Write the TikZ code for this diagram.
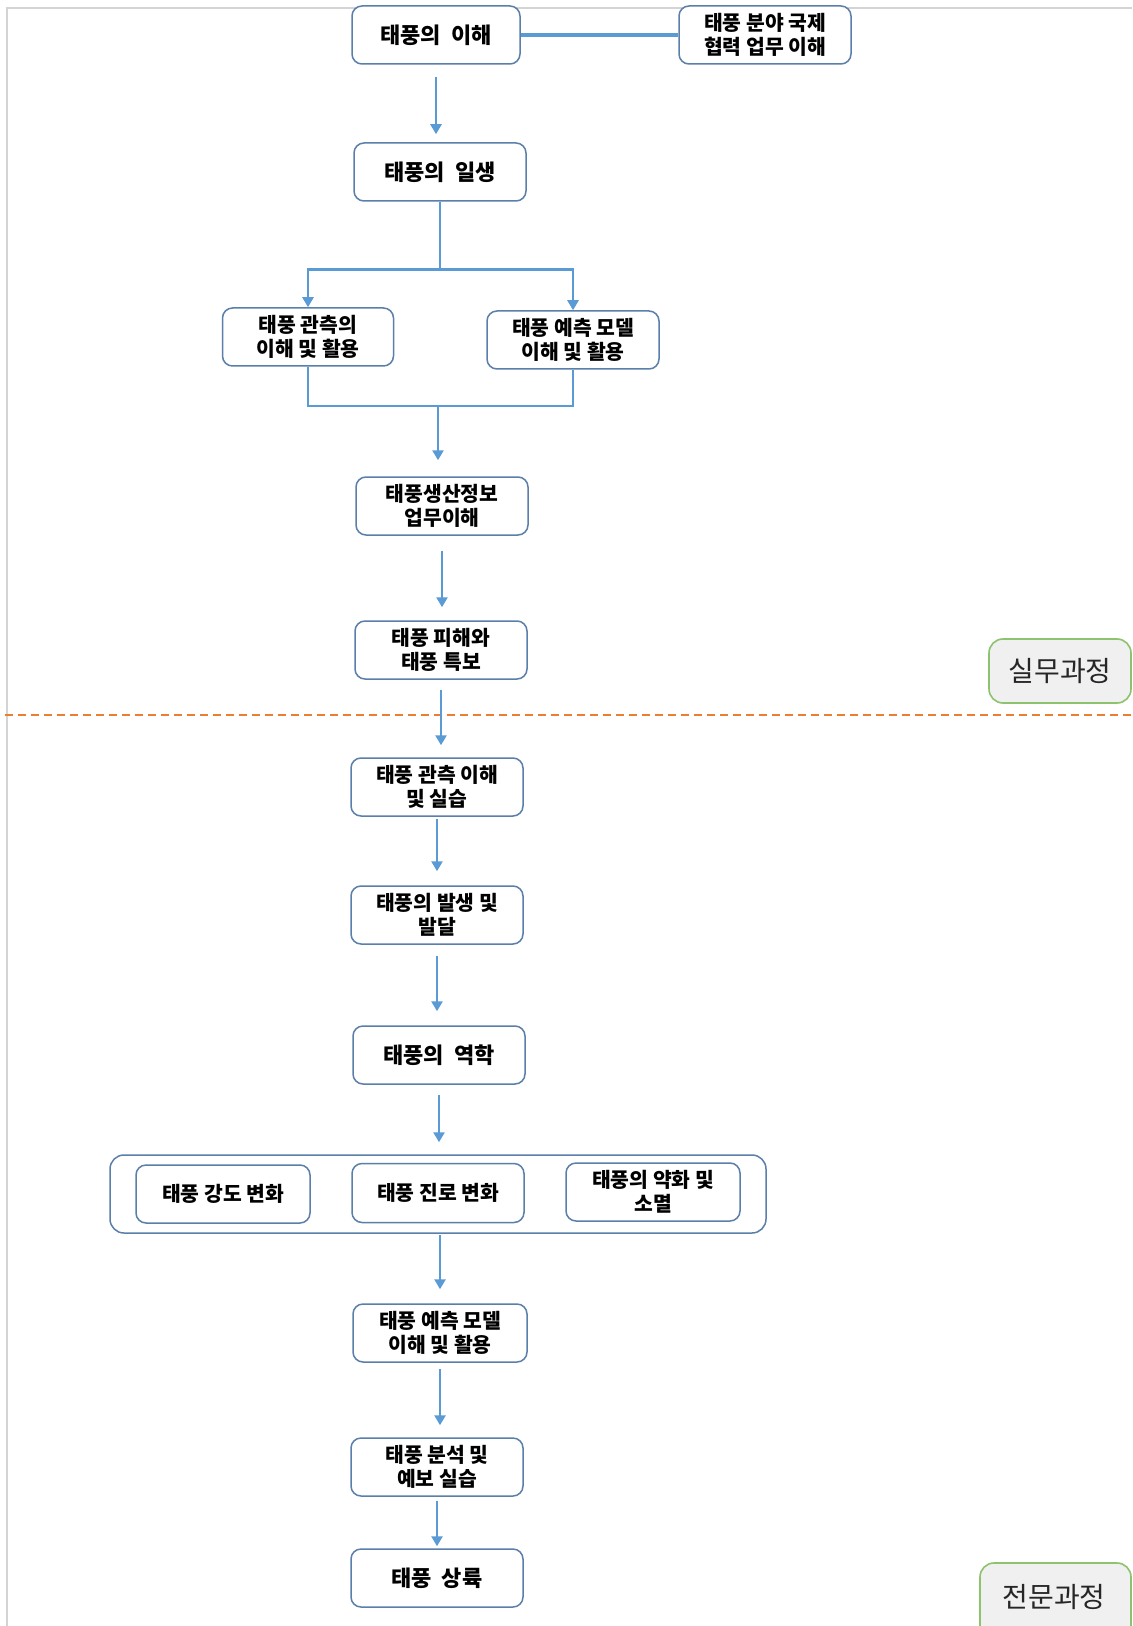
\documentclass[tikz,border=0pt]{standalone}
\usepackage{fontspec}
\newfontfamily\kr{Noto Sans CJK KR}
\newcommand\krbig{\kr\bfseries\fontsize{11}{12}\selectfont\spaceskip 0.45em\relax}
\usetikzlibrary{arrows.meta}
\definecolor{bordc}{HTML}{5A7FA8}
\definecolor{arrc}{HTML}{5B9BD5}
\definecolor{orng}{HTML}{ED7D31}
\definecolor{grn}{HTML}{8DC26F}
\definecolor{tagfill}{HTML}{F0F0F0}
\definecolor{framec}{HTML}{D4D4D4}
\tikzset{
 bx/.style={draw=bordc, line width=0.75pt, rounded corners=5pt, fill=white, minimum width=86pt, minimum height=29pt, align=center, font=\kr\bfseries\fontsize{10.2}{11.8}\selectfont, inner sep=1pt},
 big/.style={font=\krbig},
 arr/.style={draw=arrc, line width=1.4pt, -{Triangle[length=5pt,width=5.5pt]}},
 ln/.style={draw=arrc, line width=1.4pt},
 tagbox/.style={draw=grn, line width=0.8pt, rounded corners=7pt, fill=tagfill},
 tagtext/.style={font=\kr\fontsize{14}{15}\selectfont, text=black!85},
}
\begin{document}
\begin{tikzpicture}[x=0.5pt,y=-0.5pt]
\useasboundingbox (0,0) rectangle (1132,1626);
\fill[white] (0,0) rectangle (1132,1626);
\draw[framec, line width=0.6pt] (7,1626) -- (7,8) -- (1132,8);

% dashed separator
\draw[orng, line width=1.4pt, dash pattern=on 4pt off 2.5pt] (5,715) -- (1132,715);

% top section
\node[bx, big, minimum width=84pt] (b1) at (436,35) {태풍의 이해};
\node[bx] (intl) at (765,35) {태풍 분야 국제\\협력 업무 이해};
\node[bx, big] (b2) at (440,172) {태풍의 일생};
\node[bx, minimum width=85.5pt] (b3) at (308,337) {태풍 관측의\\이해 및 활용};
\node[bx] (b4) at (573,340) {태풍 예측 모델\\이해 및 활용};
\node[bx] (b5) at (442,506) {태풍생산정보\\업무이해};
\node[bx] (b6) at (441,650) {태풍 피해와\\태풍 특보};

\node[tagbox, tagtext, minimum width=71pt, minimum height=32pt] (silmu) at (1060,671) {실무과정};

% lower section
\node[bx] (b7) at (437,787) {태풍 관측 이해\\및 실습};
\node[bx] (b8) at (437,915) {태풍의 발생 및\\발달};
\node[bx, big] (b9) at (439,1055) {태풍의 역학};
\node[draw=bordc, line width=0.75pt, rounded corners=7pt, minimum width=328pt, minimum height=39pt] (cont) at (438,1194) {};
\node[bx, minimum width=87pt] (cA) at (223,1194) {태풍 강도 변화};
\node[bx, minimum height=29.5pt] (cB) at (438,1193) {태풍 진로 변화};
\node[bx, minimum width=87pt] (cC) at (653,1192) {태풍의 약화 및\\소멸};
\node[bx, minimum width=87pt] (b10) at (440,1333) {태풍 예측 모델\\이해 및 활용};
\node[bx] (b11) at (437,1467) {태풍 분석 및\\예보 실습};
\node[bx, big] (b12) at (437,1578) {태풍 상륙};

\draw[tagbox] (980,1563) rectangle (1131,1700);
\node[tagtext] (jm) at (1054,1597) {전문과정};

% connectors
\draw[ln, line width=1.6pt] (b1.east) -- (intl.west);
\draw[arr, shorten <=6pt, shorten >=4pt] (b1.south) -- (b1.south |- b2.north);
\draw[ln] (b2.south) -- ++(0,68) coordinate (s);
\draw[arr] (s) -| (b3.north);
\draw[arr] (s) -| (b4.north);
\coordinate (m) at (438,406);
\draw[ln] (b3.south) -- (b3.south |- m) -- (b4.south |- m) -- (b4.south);
\draw[arr, shorten >=8pt] (m) -- (m |- b5.north);
\draw[arr, shorten <=7.5pt, shorten >=6.5pt] (b5.south) -- (b5.south |- b6.north);
\draw[arr, shorten <=5pt, shorten >=6pt] (b6.south) -- (b6.south |- b7.north);
\draw[arr, shorten <=1pt, shorten >=7pt] (b7.south) -- (b7.south |- b8.north);
\draw[arr, shorten <=5.5pt, shorten >=7pt] (b8.south) -- (b8.south |- b9.north);
\draw[arr, shorten <=5pt, shorten >=6pt] (b9.south) -- (b9.south |- cont.north);
\draw[arr, shorten <=0.5pt, shorten >=7pt] (cont.south -| b10) -- (b10.north);
\draw[arr, shorten <=3pt, shorten >=6pt] (b10.south) -- (b10.south |- b11.north);
\draw[arr, shorten <=2pt, shorten >=1pt] (b11.south) -- (b11.south |- b12.north);
\end{tikzpicture}
\end{document}
